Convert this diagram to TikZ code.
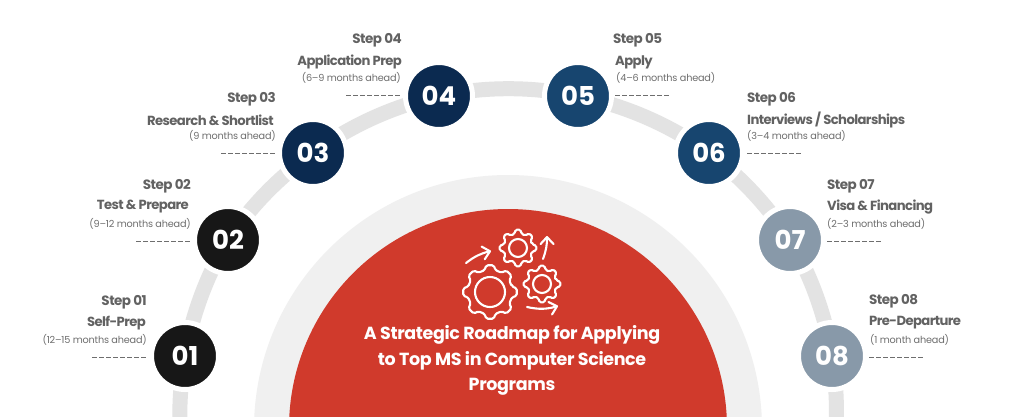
\documentclass[tikz,border=0pt]{standalone}
\usepackage{fontspec}
\setmainfont{Poppins}[BoldFont={Poppins SemiBold}]
\newfontfamily\numfont{Poppins}[BoldFont={Poppins Bold}]
\newfontfamily\titlefont{Poppins Bold}[LetterSpace=-4.5]
\newfontfamily\stepfont{Poppins Bold}[LetterSpace=-4]
\newfontfamily\headfont{Poppins Bold}[LetterSpace=-2]
\newfontfamily\subfont{Poppins}[LetterSpace=-2]
\usetikzlibrary{backgrounds,arrows.meta}
\definecolor{ringgray}{HTML}{F0F0F0}
\definecolor{arcgray}{HTML}{E3E3E3}
\definecolor{redmain}{HTML}{D03A2C}
\definecolor{cblack}{HTML}{171717}
\definecolor{cnavy}{HTML}{0B2A50}
\definecolor{cblue}{HTML}{17456F}
\definecolor{cslate}{HTML}{8899A9}
\definecolor{txtgray}{HTML}{626262}
\definecolor{subgray}{HTML}{6E6E6E}
\tikzset{
  x=1pt,y=-1pt,
  stepnode/.style={circle,inner sep=0pt,minimum size=67pt,draw=white,line width=5pt,text=white,font=\numfont\bfseries\fontsize{26}{26}\selectfont},
  arcline/.style={draw=arcgray,line width=15pt,looseness=0.85},
  steplabel/.style={inner sep=0pt,text=txtgray,font=\stepfont\fontsize{13.5}{14}\selectfont},
  steptitle/.style={inner sep=0pt,text=txtgray,font=\titlefont\fontsize{13.2}{14}\selectfont},
  stepsub/.style={inner sep=0pt,text=subgray,font=\subfont\fontsize{9.7}{12}\selectfont},
  dashrule/.style={draw=subgray,line width=0.7pt,dash pattern=on 5.4pt off 1.6pt},
  iconline/.style={draw=white,line width=2.1pt,line join=round,line cap=round},
  iconarrow/.style={iconline,-{Straight Barb[length=7pt,width=13pt,round]}},
  headline/.style={inner sep=0pt,text=white,font=\headfont\fontsize{17.5}{17}\selectfont}
}
\begin{document}
\begin{tikzpicture}
\useasboundingbox (0,0) rectangle (1024,416);
\begin{scope}
\clip (0,0) rectangle (1024,416);
\node[circle,fill=ringgray,minimum size=508pt,inner sep=0pt] (ring) at (508,429) {};
\node[circle,fill=redmain,minimum size=438pt,inner sep=0pt] (hub) at (508,428) {};
\coordinate (startend) at (180,430);
\coordinate (finishend) at (836,430);

\node[stepnode,fill=cblack] (n1) at (185,356) {01};
\node[stepnode,fill=cblack] (n2) at (228,240) {02};
\node[stepnode,fill=cnavy] (n3) at (313,153) {03};
\node[stepnode,fill=cnavy] (n4) at (439,96) {04};
\node[stepnode,fill=cblue] (n5) at (578,96) {05};
\node[stepnode,fill=cblue] (n6) at (709,153) {06};
\node[stepnode,fill=cslate] (n7) at (790,240) {07};
\node[stepnode,fill=cslate] (n8) at (832,356) {08};

\begin{scope}[on background layer]
\fill[white] (0,0) rectangle (1024,416);
\draw[arcline] (startend) to[bend left=6] (n1.center);
\draw[arcline] (n1.center) to[bend left=10.7] (n2.center);
\draw[arcline] (n2.center) to[bend left=10.6] (n3.center);
\draw[arcline] (n3.center) to[bend left=12.1] (n4.center);
\draw[arcline] (n4.center) to[bend left=12.2] (n5.center);
\draw[arcline] (n5.center) to[bend left=12.4] (n6.center);
\draw[arcline] (n6.center) to[bend left=10.3] (n7.center);
\draw[arcline] (n7.center) to[bend left=10.7] (n8.center);
\draw[arcline] (n8.center) to[bend left=6] (finishend);
\end{scope}
\end{scope}

% labels, left side
\node[steplabel,anchor=east] (s1) at (147,302) {Step 01};
\node[steptitle,anchor=east] (t1) at (146,323) {Self-Prep};
\node[stepsub,anchor=east] (m1) at (147,339.5) {(12–15 months ahead)};
\coordinate (d1a) at (92,357); \coordinate (d1b) at (147,357);
\draw[dashrule] (d1a) -- (d1b);
\node[steplabel,anchor=east] (s2) at (191,186) {Step 02};
\node[steptitle,anchor=east] (t2) at (189,207) {Test \& Prepare};
\node[stepsub,anchor=east] (m2) at (191,223.5) {(9–12 months ahead)};
\coordinate (d2a) at (136,241); \coordinate (d2b) at (191,241);
\draw[dashrule] (d2a) -- (d2b);
\node[steplabel,anchor=east] (s3) at (276,99) {Step 03};
\node[steptitle,anchor=east] (t3) at (274,120) {Research \& Shortlist};
\node[stepsub,anchor=east] (m3) at (276,135.5) {(9 months ahead)};
\coordinate (d3a) at (221,153); \coordinate (d3b) at (276,153);
\draw[dashrule] (d3a) -- (d3b);
\node[steplabel,anchor=east] (s4) at (402,40) {Step 04};
\node[steptitle,anchor=east] (t4) at (402,62) {Application Prep};
\node[stepsub,anchor=east] (m4) at (401,77.5) {(6–9 months ahead)};
\coordinate (d4a) at (346,95); \coordinate (d4b) at (401,95);
\draw[dashrule] (d4a) -- (d4b);
% labels, right side
\node[steplabel,anchor=west] (s5) at (613,40) {Step 05};
\node[steptitle,anchor=west] (t5) at (615,62) {Apply};
\node[stepsub,anchor=west] (m5) at (616,77.5) {(4–6 months ahead)};
\coordinate (d5a) at (615,95); \coordinate (d5b) at (670,95);
\draw[dashrule] (d5a) -- (d5b);
\node[steplabel,anchor=west] (s6) at (747,99) {Step 06};
\node[steptitle,anchor=west] (t6) at (747,120) {Interviews / Scholarships};
\node[stepsub,anchor=west] (m6) at (747,135.5) {(3–4 months ahead)};
\coordinate (d6a) at (747,153); \coordinate (d6b) at (802,153);
\draw[dashrule] (d6a) -- (d6b);
\node[steplabel,anchor=west] (s7) at (827,186) {Step 07};
\node[steptitle,anchor=west] (t7) at (827,207) {Visa \& Financing};
\node[stepsub,anchor=west] (m7) at (827,223.5) {(2–3 months ahead)};
\coordinate (d7a) at (827,241); \coordinate (d7b) at (882,241);
\draw[dashrule] (d7a) -- (d7b);
\node[steplabel,anchor=west] (s8) at (869,301) {Step 08};
\node[steptitle,anchor=west] (t8) at (869,323) {Pre-Departure};
\node[stepsub,anchor=west] (m8) at (870,339.5) {(1 month ahead)};
\coordinate (d8a) at (869,357); \coordinate (d8b) at (924,357);
\draw[dashrule] (d8a) -- (d8b);

% icon: eight-toothed gears
\foreach \cx/\cy/\ro/\rr/\rh in {490/292/27/22.5/15, 518/248/18.5/14.5/9, 542/284/18.5/14.5/9}{
  \draw[iconline,rounded corners=1.6pt,shift={(\cx,\cy)}]
    (-14:\rr)
    \foreach \ang in {0,45,...,315}{
      -- ({\ang-14}:\rr) -- ({\ang-8}:\ro) -- ({\ang+8}:\ro) -- ({\ang+14}:\rr)
    } -- cycle;
  \draw[iconline] (\cx,\cy) circle (\rh);
}
\coordinate (a1s) at (466,263); \coordinate (a1e) at (491,251);
\coordinate (a2s) at (543,259); \coordinate (a2e) at (547,236);
\coordinate (a3s) at (527,307); \coordinate (a3e) at (558,306);
\draw[iconarrow] (a1s) to[bend left=12] (a1e);
\draw[iconarrow] (a2s) to[bend right=10] (a2e);
\draw[iconarrow] (a3s) to[bend right=14] (a3e);

% headline
\node[headline] (h1) at (512,335) {A Strategic Roadmap for Applying};
\node[headline] (h2) at (512,361) {to Top MS in Computer Science};
\node[headline] (h3) at (512,387) {Programs};
\end{tikzpicture}
\end{document}
